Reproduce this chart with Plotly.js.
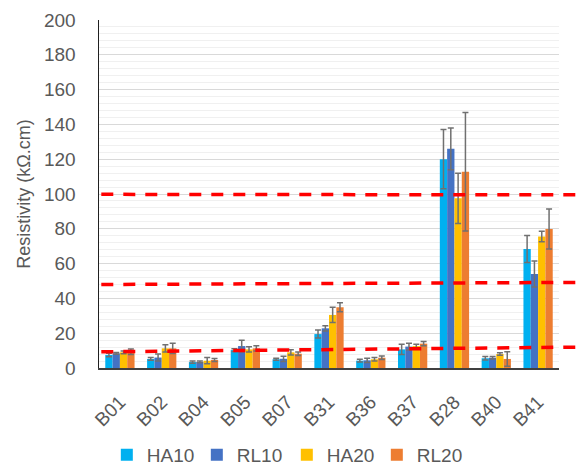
<!DOCTYPE html>
<html>
<head>
<meta charset="utf-8">
<script src="https://cdn.plot.ly/plotly-3.0.1.min.js"></script>
<style>html,body{margin:0;padding:0;background:#fff;}#chart{width:576px;height:468px;}</style>
</head>
<body>
<div id="chart"></div>
<script>
var categories = ['B01','B02','B04','B05','B07','B31','B36','B37','B28','B40','B41'];
var HA10 = [7.5, 5.2, 3.4, 10.3, 5.0, 19.5, 4.2, 10.7, 120, 5.6, 68.4];
var HA10err = [1, 0.8, 0.6, 0.8, 0.6, 2.3, 0.8, 3, 17, 1, 7.7];
var RL10 = [8.4, 6.0, 3.5, 12.6, 5.3, 22.8, 4.4, 12.3, 126, 5.9, 54];
var RL10err = [0.5, 2, 0.5, 3.3, 1.5, 1.5, 1.2, 1.9, 12, 0.7, 7.5];
var HA20 = [9.0, 11.3, 4.2, 10.7, 9.0, 30.5, 5.0, 12.6, 97.5, 8.0, 75.6];
var HA20err = [0.8, 2.1, 1.8, 1.5, 1.5, 4.4, 1, 1, 14.4, 0.7, 3];
var RL20 = [9.3, 11.3, 4.6, 11.3, 8.2, 34.9, 5.9, 14, 112.8, 5.2, 79.9];
var RL20err = [1.6, 2.9, 0.8, 1.5, 1, 2.6, 1, 1.2, 34, 4.2, 11.5];
var seriesNames = ['HA10','RL10','HA20','RL20'];
var seriesColors = ['#00B0F0','#4472C4','#FFC000','#ED7D31'];
// threshold lines: [start value, end value]
var thresholdStart = [99.8, 48.0, 9.3];
var thresholdEnd = [99.5, 49.2, 12.0];

var vals = [HA10, RL10, HA20, RL20];
var errs = [HA10err, RL10err, HA20err, RL20err];
var font = 'Liberation Sans, Arial, sans-serif';
var traces = seriesNames.map(function(n, i){
  return {
    type: 'bar', name: n, x: categories, y: vals[i],
    marker: {color: seriesColors[i], line: {width: 0}},
    error_y: {type: 'data', array: errs[i], visible: true, color: '#707070', thickness: 1.5, width: 3}
  };
});
var shapes = thresholdStart.map(function(v, i){
  return {type: 'line', xref: 'paper', yref: 'y', x0: 0.005, x1: 1.04, y0: v, y1: thresholdEnd[i],
    line: {color: '#FF0000', width: 3.5, dash: '12px,10px'}};
});
var layout = {
  width: 576, height: 468,
  margin: {l: 99, r: 17, t: 20, b: 100, autoexpand: false},
  paper_bgcolor: '#fff', plot_bgcolor: '#fff',
  font: {family: font, color: '#595959', size: 19},
  barmode: 'group', bargap: 0.3, bargroupgap: 0,
  showlegend: true,
  legend: {orientation: 'h', x: 0.017, xanchor: 'left', y: -0.25, yanchor: 'middle', bgcolor: 'rgba(0,0,0,0)',
    font: {family: font, size: 19, color: '#595959'}, entrywidth: 45, itemwidth: 30},
  xaxis: {type: 'category', showline: true, linecolor: '#404040', linewidth: 1.5,
    tickangle: -45, ticks: '', ticklabelstandoff: 14, tickfont: {family: font, size: 19, color: '#595959'},
    showgrid: false, fixedrange: true},
  yaxis: {range: [0, 200], dtick: 20, showline: true, linecolor: '#202020', linewidth: 1.5,
    gridcolor: '#d9d9d9', gridwidth: 1, zeroline: false, ticks: '', ticklabelstandoff: 18,
    minor: {dtick: 4, showgrid: true, gridcolor: '#f0f0f0', gridwidth: 1},
    tickfont: {family: font, size: 19, color: '#595959'},
    title: {text: 'Resistivity (kΩ.cm)', font: {family: font, size: 18, color: '#595959'}, standoff: 8}},
  shapes: shapes
};
Plotly.newPlot('chart', traces, layout, {displayModeBar: false, staticPlot: true});
</script>
</body>
</html>
